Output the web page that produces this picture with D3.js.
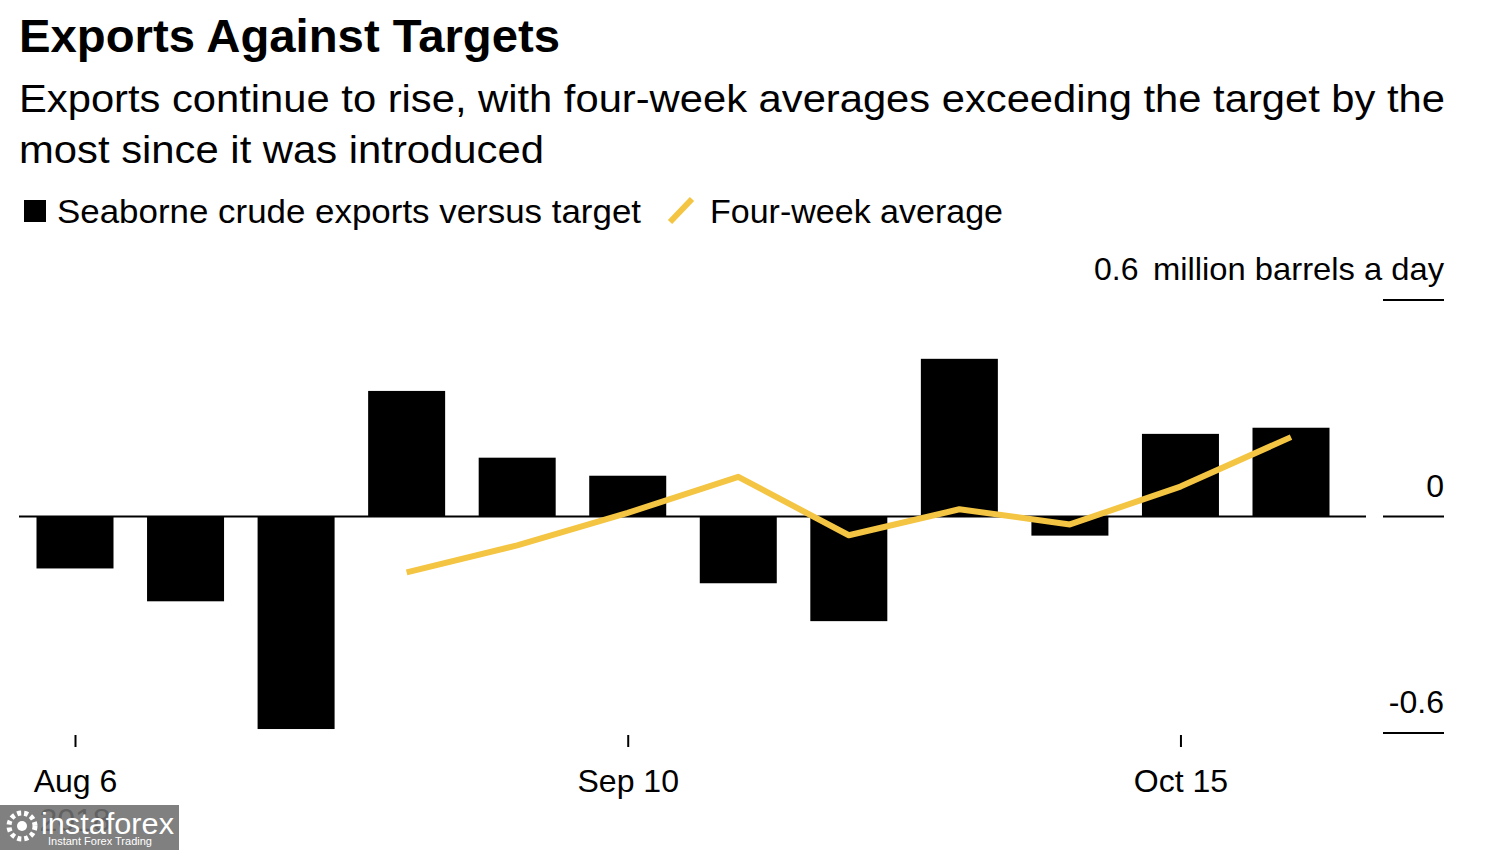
<!DOCTYPE html>
<html><head><meta charset="utf-8">
<script src="https://cdn.jsdelivr.net/npm/d3@7/dist/d3.min.js"></script>
<style>body{margin:0;background:#fff;} svg{display:block;font-family:"Liberation Sans",Arial,Helvetica,sans-serif;}</style>
</head><body>
<script>
const weeks = ["2018-08-06","2018-08-13","2018-08-20","2018-08-27","2018-09-03","2018-09-10","2018-09-17","2018-09-24","2018-10-01","2018-10-08","2018-10-15","2018-10-22"];
const exportsVsTarget = [-0.144,-0.235,-0.589,0.348,0.163,0.113,-0.185,-0.29,0.437,-0.053,0.229,0.246];
const avgWeeks = ["2018-08-27","2018-09-03","2018-09-10","2018-09-17","2018-09-24","2018-10-01","2018-10-08","2018-10-15","2018-10-22"];
const fourWeekAvg = [-0.155,-0.08,0.01,0.11,-0.052,0.02,-0.022,0.083,0.22];
const xTicks = ["2018-08-06","2018-09-10","2018-10-15"];
const yTicks = [-0.6,0,0.6];
const yTickLabels = ["-0.6","0","0.6"];
const unitLabel = "million barrels a day";

const W=1500,H=850;
const parse=d3.timeParse("%Y-%m-%d");
const svg=d3.select("body").append("svg").attr("width",W).attr("height",H);

const x=d3.scaleTime().domain([parse(weeks[0]),parse(weeks[weeks.length-1])]).range([75,1291]);
const y=d3.scaleLinear().domain([-0.6,0.6]).range([733,300]);
const barW=77;

// Title & subtitle
svg.append("text").attr("x",19).attr("y",52).attr("font-size",46).attr("font-weight","bold")
  .attr("textLength",541).attr("lengthAdjust","spacingAndGlyphs").text("Exports Against Targets");
svg.append("text").attr("x",19).attr("y",112).attr("font-size",38)
  .attr("textLength",1426).attr("lengthAdjust","spacingAndGlyphs")
  .text("Exports continue to rise, with four-week averages exceeding the target by the");
svg.append("text").attr("x",19).attr("y",163).attr("font-size",38)
  .attr("textLength",525).attr("lengthAdjust","spacingAndGlyphs")
  .text("most since it was introduced");

// Legend
svg.append("rect").attr("x",24).attr("y",200).attr("width",22).attr("height",22).attr("fill","#000");
svg.append("text").attr("x",57).attr("y",223).attr("font-size",33)
  .attr("textLength",584).attr("lengthAdjust","spacingAndGlyphs").text("Seaborne crude exports versus target");
svg.append("line").attr("x1",670).attr("y1",222).attr("x2",692).attr("y2",199)
  .attr("stroke","#f4c542").attr("stroke-width",6);
svg.append("text").attr("x",710).attr("y",223).attr("font-size",33)
  .attr("textLength",293).attr("lengthAdjust","spacingAndGlyphs").text("Four-week average");

// Bars
svg.append("g").selectAll("rect").data(weeks.map((w,i)=>({d:parse(w),v:exportsVsTarget[i]})))
  .join("rect")
  .attr("x",d=>x(d.d)-barW/2).attr("width",barW)
  .attr("y",d=>y(Math.max(0,d.v))).attr("height",d=>Math.abs(y(d.v)-y(0)))
  .attr("fill","#000");

// Zero line
svg.append("line").attr("x1",19).attr("x2",1366).attr("y1",y(0)).attr("y2",y(0))
  .attr("stroke","#000").attr("stroke-width",2);

// Four-week average line
const line=d3.line().x(d=>x(d.d)).y(d=>y(d.v));
svg.append("path").datum(avgWeeks.map((w,i)=>({d:parse(w),v:fourWeekAvg[i]})))
  .attr("d",line).attr("fill","none").attr("stroke","#f4c542").attr("stroke-width",6)
  .attr("stroke-linejoin","round");

// Right y axis
const yg=svg.append("g");
yTicks.forEach((t,i)=>{
  yg.append("line").attr("x1",1383).attr("x2",1444).attr("y1",y(t)).attr("y2",y(t))
    .attr("stroke","#000").attr("stroke-width",2);
  if(t===0.6){
    yg.append("text").attr("x",1094).attr("y",y(t)-20).attr("font-size",32).text(yTickLabels[i]);
    yg.append("text").attr("x",1444).attr("y",y(t)-20).attr("text-anchor","end").attr("font-size",32)
      .attr("textLength",291).attr("lengthAdjust","spacingAndGlyphs").text(unitLabel);
  } else {
    yg.append("text").attr("x",1444).attr("y",y(t)-20).attr("text-anchor","end").attr("font-size",32).text(yTickLabels[i]);
  }
});

// X axis
const xa=d3.axisBottom(x).tickValues(xTicks.map(parse)).tickFormat(d3.timeFormat("%b %-d")).tickSize(12).tickPadding(22);
const xg=svg.append("g").attr("transform","translate(0,735)").call(xa);
xg.select(".domain").remove();
xg.selectAll(".tick line").attr("stroke","#000").attr("stroke-width",2);
xg.selectAll(".tick text").attr("font-size",32).attr("fill","#000").attr("font-family","Liberation Sans, Arial, sans-serif");
svg.append("text").attr("x",75).attr("y",831).attr("text-anchor","middle").attr("font-size",32).text("2018");

// Watermark overlay
const wm=svg.append("g");
wm.append("rect").attr("x",0).attr("y",805).attr("width",179).attr("height",45).attr("fill","#6e6e6e").attr("opacity",0.88);
wm.append("circle").attr("cx",22).attr("cy",826).attr("r",13).attr("fill","none").attr("stroke","#fff").attr("stroke-width",5).attr("stroke-dasharray","4 3");
wm.append("circle").attr("cx",22).attr("cy",826).attr("r",5).attr("fill","#fff");
wm.append("text").attr("x",41).attr("y",834).attr("font-size",30).attr("fill","#fff").attr("textLength",133).attr("lengthAdjust","spacingAndGlyphs").text("instaforex");
wm.append("text").attr("x",48).attr("y",845).attr("font-size",11).attr("fill","#fff").text("Instant Forex Trading");
</script>
</body></html>
